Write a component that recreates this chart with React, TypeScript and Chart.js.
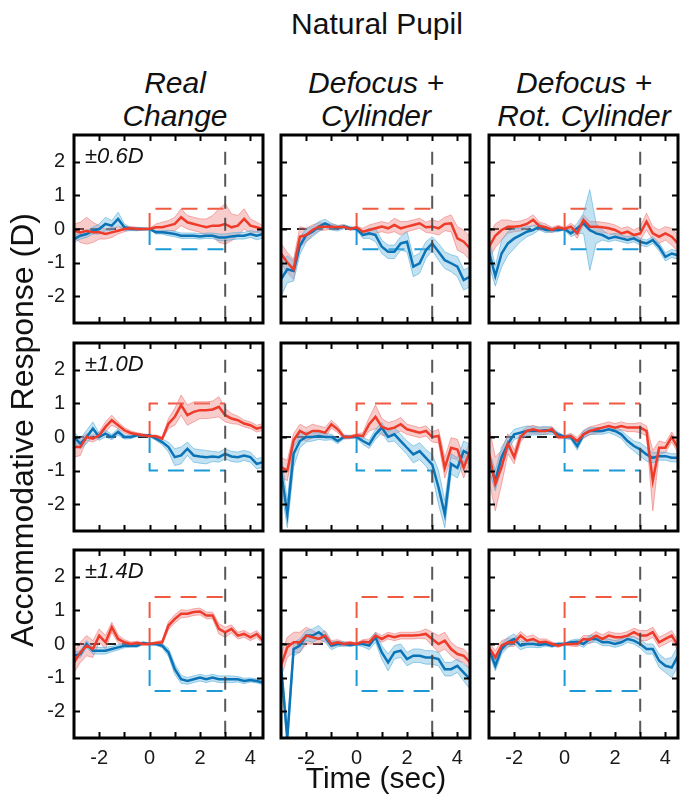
import React, { useEffect, useRef } from 'react';
import { Chart, registerables } from 'chart.js';

Chart.register(...registerables);

// ---------- data ----------
const TIME = [-3, -2.75, -2.5, -2.25, -2, -1.75, -1.5, -1.25, -1, -0.75, -0.5, -0.25, 0, 0.25, 0.5, 0.75, 1, 1.25, 1.5, 1.75, 2, 2.25, 2.5, 2.75, 3, 3.25, 3.5, 3.75, 4, 4.25, 4.5];
const X_TICKS = [-2, 0, 2, 4];
const X_MINOR_TICKS = [-2, -1, 0, 1, 2, 3, 4];
const Y_TICKS = [-2, -1, 0, 1, 2];
const AMPLITUDES = [0.6, 1.0, 1.4];
const AMPLITUDE_LABELS = ['±0.6D', '±1.0D', '±1.4D'];
const COLUMN_TITLES = [['Real', 'Change'], ['Defocus +', 'Cylinder'], ['Defocus +', 'Rot. Cylinder']];
const STIMULUS_END = 3;

// Row 1: ±0.6D
const realChange06Red = [-0.05, -0.1, -0.05, -0.1, -0.1, -0.15, -0.1, -0.05, 0, 0.02, 0, 0, 0, 0.05, 0.05, 0.1, 0.15, 0.35, 0.2, 0.15, 0.1, 0.05, 0.1, 0.1, 0.15, 0.05, 0.1, 0.3, 0.1, 0.05, 0];
const realChange06RedSd = [0.2, 0.3, 0.4, 0.3, 0.2, 0.15, 0.15, 0.1, 0.08, 0.05, 0.05, 0.03, 0.02, 0.1, 0.15, 0.15, 0.2, 0.25, 0.2, 0.2, 0.2, 0.25, 0.3, 0.5, 0.6, 0.4, 0.3, 0.3, 0.2, 0.15, 0.1];
const realChange06Blue = [-0.3, -0.2, -0.15, -0.05, 0, 0.15, 0.1, 0.3, 0.05, 0, 0, 0, 0, -0.1, -0.1, -0.12, -0.15, -0.2, -0.2, -0.2, -0.22, -0.2, -0.2, -0.25, -0.25, -0.22, -0.2, -0.2, -0.15, -0.2, -0.15];
const realChange06BlueSd = [0.1, 0.1, 0.1, 0.1, 0.15, 0.2, 0.15, 0.2, 0.1, 0.05, 0.05, 0.03, 0.02, 0.05, 0.05, 0.08, 0.08, 0.08, 0.08, 0.08, 0.08, 0.08, 0.08, 0.1, 0.1, 0.1, 0.1, 0.1, 0.1, 0.12, 0.12];

const defocusCyl06Red = [-0.73, -1.0, -1.2, -0.23, -0.18, -0.03, 0.07, 0.07, 0.07, 0.05, 0.07, 0, 0.05, -0.08, -0.03, 0.02, 0.07, 0.02, 0.12, 0.02, 0.07, 0.12, 0.17, 0.05, 0.07, 0.02, 0.15, 0.17, -0.28, -0.38, -0.58];
const defocusCyl06RedSd = [0.3, 0.3, 0.3, 0.3, 0.2, 0.15, 0.12, 0.1, 0.08, 0.06, 0.05, 0.04, 0.03, 0.1, 0.15, 0.15, 0.15, 0.15, 0.2, 0.2, 0.15, 0.15, 0.15, 0.15, 0.2, 0.2, 0.2, 0.25, 0.35, 0.35, 0.35];
const defocusCyl06Blue = [-1.5, -1.2, -1.25, -0.5, -0.18, -0.08, 0.07, 0.17, 0.07, 0.02, 0.07, 0.02, 0, -0.18, -0.13, -0.18, -0.53, -0.68, -0.68, -0.43, -0.38, -1.12, -1.02, -0.63, -0.43, -0.68, -0.93, -1.02, -1.12, -1.52, -1.42];
const defocusCyl06BlueSd = [0.5, 0.4, 0.3, 0.25, 0.2, 0.15, 0.15, 0.12, 0.1, 0.08, 0.06, 0.05, 0.03, 0.1, 0.15, 0.2, 0.2, 0.2, 0.2, 0.2, 0.3, 0.3, 0.3, 0.25, 0.2, 0.25, 0.25, 0.25, 0.3, 0.3, 0.3];

const rotCyl06Red = [-0.53, -0.2, -0.03, 0.07, 0.07, 0.09, 0.15, 0.27, 0.09, 0.05, -0.03, 0.05, 0, 0.07, -0.13, 0.27, 0.07, 0.07, 0.05, 0.02, -0.03, -0.13, -0.08, -0.18, -0.13, 0.22, -0.13, -0.23, -0.13, -0.23, -0.43];
const rotCyl06RedSd = [0.35, 0.35, 0.3, 0.2, 0.15, 0.15, 0.15, 0.15, 0.12, 0.1, 0.08, 0.06, 0.04, 0.1, 0.15, 0.15, 0.15, 0.15, 0.15, 0.15, 0.15, 0.15, 0.15, 0.15, 0.2, 0.25, 0.2, 0.2, 0.2, 0.25, 0.25];
const rotCyl06Blue = [-0.68, -1.4, -0.73, -0.43, -0.28, -0.18, -0.08, -0.03, 0.07, -0.03, -0.03, -0.03, 0, -0.13, 0.02, 0.17, -0.03, -0.13, -0.18, -0.28, -0.23, -0.28, -0.33, -0.28, -0.38, -0.43, -0.33, -0.53, -0.83, -0.73, -0.78];
const rotCyl06BlueSd = [0.4, 0.3, 0.4, 0.35, 0.3, 0.2, 0.15, 0.12, 0.1, 0.08, 0.06, 0.05, 0.03, 0.1, 0.15, 0.3, 1.2, 0.3, 0.15, 0.1, 0.1, 0.1, 0.1, 0.1, 0.1, 0.1, 0.1, 0.12, 0.12, 0.12, 0.12];

// Row 2: ±1.0D
const realChange10Red = [-0.3, -0.3, 0, -0.05, 0.05, 0.3, 0.5, 0.35, 0.2, 0.12, 0.08, 0.05, 0.03, 0.02, -0.05, 0.4, 0.6, 0.95, 0.65, 0.75, 0.8, 0.8, 0.82, 0.9, 0.65, 0.55, 0.5, 0.4, 0.35, 0.25, 0.3];
const realChange10RedSd = [0.3, 0.25, 0.1, 0.1, 0.1, 0.15, 0.15, 0.1, 0.08, 0.06, 0.05, 0.04, 0.03, 0.04, 0.05, 0.15, 0.25, 0.3, 0.3, 0.3, 0.25, 0.25, 0.25, 0.3, 0.2, 0.15, 0.12, 0.1, 0.1, 0.1, 0.1];
const realChange10Blue = [0, -0.2, 0, 0.25, 0, 0.1, 0, 0.15, 0, 0, 0.05, 0.05, 0.05, -0.05, -0.15, -0.3, -0.6, -0.55, -0.35, -0.55, -0.58, -0.6, -0.58, -0.6, -0.5, -0.58, -0.6, -0.55, -0.6, -0.8, -0.75];
const realChange10BlueSd = [0.15, 0.15, 0.2, 0.2, 0.1, 0.1, 0.08, 0.1, 0.06, 0.05, 0.04, 0.03, 0.03, 0.05, 0.08, 0.15, 0.25, 0.25, 0.2, 0.2, 0.2, 0.2, 0.15, 0.15, 0.15, 0.15, 0.15, 0.15, 0.15, 0.15, 0.15];

const defocusCyl10Red = [-0.9, -1.0, -0.1, 0.18, 0.08, 0.18, 0.18, 0.13, 0.38, 0.23, 0, 0, 0.05, 0.03, 0.38, 0.6, 0.3, 0.23, 0.28, 0.38, 0.23, 0.18, 0.13, 0.18, 0, 0.03, -0.92, -0.32, -0.37, -0.92, -0.42];
const defocusCyl10RedSd = [0.3, 0.3, 0.2, 0.2, 0.2, 0.2, 0.15, 0.15, 0.12, 0.1, 0.06, 0.05, 0.04, 0.1, 0.2, 0.35, 0.25, 0.2, 0.2, 0.2, 0.15, 0.15, 0.15, 0.15, 0.15, 0.2, 0.3, 0.3, 0.3, 0.3, 0.3];
const defocusCyl10Blue = [-1.0, -2.3, -0.5, -0.12, 0, 0, 0.03, 0, 0, -0.12, 0, 0, 0, -0.12, -0.22, 0.08, 0.28, 0, 0.08, -0.12, -0.32, -0.52, -0.42, -0.62, -0.82, -1.5, -2.3, -0.8, -0.92, -0.42, -0.52];
const defocusCyl10BlueSd = [0.5, 0.4, 0.4, 0.2, 0.15, 0.12, 0.1, 0.1, 0.08, 0.08, 0.05, 0.04, 0.03, 0.1, 0.12, 0.15, 0.15, 0.15, 0.2, 0.2, 0.2, 0.25, 0.25, 0.25, 0.3, 0.5, 0.4, 0.3, 0.3, 0.3, 0.3];

const rotCyl10Red = [-0.5, -1.4, -0.9, -0.2, -0.6, 0, 0.18, 0.23, 0.18, 0.18, 0.23, 0, 0, 0.03, -0.12, 0.08, 0.18, 0.23, 0.28, 0.33, 0.28, 0.33, 0.28, 0.28, 0.28, 0.18, -1.3, -0.32, -0.32, 0, -0.32];
const rotCyl10RedSd = [0.8, 0.8, 0.5, 0.3, 0.2, 0.15, 0.12, 0.12, 0.1, 0.1, 0.08, 0.06, 0.04, 0.08, 0.1, 0.12, 0.12, 0.12, 0.12, 0.12, 0.12, 0.12, 0.12, 0.12, 0.15, 0.15, 0.9, 0.2, 0.15, 0.15, 0.15];
const rotCyl10Blue = [-0.7, -1.3, -0.6, -0.2, 0.08, 0.13, 0.18, 0.18, 0.18, 0.2, 0.18, 0.08, 0, 0, -0.27, 0.08, 0.18, 0.18, 0.18, 0.23, 0.18, 0.08, -0.12, -0.27, -0.37, -0.52, -0.62, -0.57, -0.57, -0.62, -0.62];
const rotCyl10BlueSd = [0.3, 0.3, 0.3, 0.2, 0.15, 0.15, 0.15, 0.12, 0.12, 0.12, 0.1, 0.06, 0.04, 0.08, 0.12, 0.1, 0.1, 0.1, 0.1, 0.1, 0.12, 0.12, 0.15, 0.15, 0.2, 0.2, 0.15, 0.12, 0.12, 0.12, 0.12];

// Row 3: ±1.4D
const realChange14Red = [-0.55, -0.25, -0.05, -0.15, 0.25, 0.05, 0.5, 0.15, 0.05, 0, 0.03, 0, 0, 0.03, 0.05, 0.55, 0.75, 0.9, 0.9, 0.95, 0.97, 0.85, 0.85, 0.45, 0.35, 0.45, 0.25, 0.3, 0.2, 0.3, 0.1];
const realChange14RedSd = [0.3, 0.3, 0.3, 0.25, 0.2, 0.2, 0.15, 0.12, 0.08, 0.06, 0.05, 0.04, 0.03, 0.04, 0.06, 0.12, 0.12, 0.12, 0.1, 0.1, 0.1, 0.1, 0.1, 0.15, 0.15, 0.12, 0.1, 0.1, 0.1, 0.1, 0.1];
const realChange14Blue = [-0.35, -0.3, 0, -0.2, -0.2, -0.2, -0.15, -0.1, -0.05, -0.05, -0.05, 0.03, 0, 0, -0.05, -0.25, -0.75, -1.05, -1.1, -1.05, -1.0, -1.05, -1.0, -1.05, -1.05, -1.05, -1.05, -1.1, -1.07, -1.1, -1.15];
const realChange14BlueSd = [0.1, 0.1, 0.1, 0.1, 0.1, 0.1, 0.08, 0.08, 0.06, 0.05, 0.05, 0.04, 0.03, 0.04, 0.06, 0.12, 0.15, 0.12, 0.1, 0.1, 0.1, 0.1, 0.1, 0.1, 0.1, 0.1, 0.08, 0.08, 0.06, 0.06, 0.06];

const defocusCyl14Red = [-0.65, -0.1, 0.05, 0.05, 0.25, 0.2, 0.15, 0.25, 0, 0.05, 0, 0.03, 0, 0.07, 0.05, 0.25, 0.15, 0.25, 0.2, 0.25, 0.25, 0.25, 0.27, 0.3, 0.15, 0, 0.1, -0.15, -0.3, -0.35, -0.55];
const defocusCyl14RedSd = [0.35, 0.3, 0.3, 0.3, 0.25, 0.2, 0.15, 0.15, 0.1, 0.08, 0.06, 0.05, 0.03, 0.06, 0.1, 0.1, 0.1, 0.1, 0.1, 0.1, 0.1, 0.1, 0.1, 0.15, 0.2, 0.25, 0.25, 0.2, 0.2, 0.2, 0.2];
const defocusCyl14Blue = [-0.65, -2.8, -0.15, -0.05, 0.25, 0.25, 0.35, 0.2, -0.05, 0, 0, -0.03, 0, 0, -0.05, 0.2, -0.25, -0.55, -0.25, -0.2, -0.45, -0.35, -0.35, -0.4, -0.4, -0.45, -0.75, -0.75, -0.65, -0.85, -1.05];
const defocusCyl14BlueSd = [0.3, 0.3, 0.2, 0.2, 0.15, 0.2, 0.2, 0.15, 0.12, 0.08, 0.06, 0.05, 0.03, 0.08, 0.12, 0.15, 0.2, 0.25, 0.2, 0.2, 0.2, 0.2, 0.2, 0.2, 0.2, 0.2, 0.2, 0.2, 0.2, 0.25, 0.3];

const rotCyl14Red = [-0.1, -0.4, -0.05, 0.05, 0.05, 0.25, 0.1, 0.15, 0.05, 0.07, 0, -0.05, 0, 0, 0, 0.15, 0.13, 0.25, 0.15, 0.25, 0.2, 0.2, 0.25, 0.35, 0.25, 0.25, 0.35, 0.05, 0.15, 0.25, -0.05];
const rotCyl14RedSd = [0.15, 0.2, 0.15, 0.12, 0.12, 0.12, 0.12, 0.12, 0.1, 0.08, 0.06, 0.05, 0.03, 0.06, 0.08, 0.1, 0.12, 0.12, 0.12, 0.12, 0.12, 0.12, 0.12, 0.12, 0.15, 0.15, 0.15, 0.15, 0.15, 0.15, 0.15];
const rotCyl14Blue = [-0.15, -0.65, -0.15, 0.05, 0.15, -0.05, 0, 0, -0.03, 0, -0.05, 0, 0, 0.05, 0.07, 0, 0.15, 0.15, 0.05, 0.05, 0, 0.05, 0.15, 0.1, 0, -0.15, -0.15, -0.5, -0.65, -0.7, -0.35];
const rotCyl14BlueSd = [0.12, 0.15, 0.15, 0.15, 0.15, 0.12, 0.1, 0.1, 0.08, 0.06, 0.05, 0.04, 0.03, 0.06, 0.08, 0.1, 0.1, 0.1, 0.1, 0.1, 0.1, 0.1, 0.1, 0.1, 0.12, 0.15, 0.15, 0.2, 0.2, 0.3, 0.3];

const PANEL_DATA = [
  [
    { red: realChange06Red, redSd: realChange06RedSd, blue: realChange06Blue, blueSd: realChange06BlueSd },
    { red: defocusCyl06Red, redSd: defocusCyl06RedSd, blue: defocusCyl06Blue, blueSd: defocusCyl06BlueSd },
    { red: rotCyl06Red, redSd: rotCyl06RedSd, blue: rotCyl06Blue, blueSd: rotCyl06BlueSd },
  ],
  [
    { red: realChange10Red, redSd: realChange10RedSd, blue: realChange10Blue, blueSd: realChange10BlueSd },
    { red: defocusCyl10Red, redSd: defocusCyl10RedSd, blue: defocusCyl10Blue, blueSd: defocusCyl10BlueSd },
    { red: rotCyl10Red, redSd: rotCyl10RedSd, blue: rotCyl10Blue, blueSd: rotCyl10BlueSd },
  ],
  [
    { red: realChange14Red, redSd: realChange14RedSd, blue: realChange14Blue, blueSd: realChange14BlueSd },
    { red: defocusCyl14Red, redSd: defocusCyl14RedSd, blue: defocusCyl14Blue, blueSd: defocusCyl14BlueSd },
    { red: rotCyl14Red, redSd: rotCyl14RedSd, blue: rotCyl14Blue, blueSd: rotCyl14BlueSd },
  ],
];

// ---------- style / layout ----------
const FONT = "'Liberation Sans', Arial, Helvetica, sans-serif";
const RED = '#ee3b2a';
const BLUE = '#0b73b7';
const RED_DASH = '#f05a40';
const BLUE_DASH = '#1b9ad6';
const COL_LEFT = [74, 281, 489];
const ROW_TOP = [135, 343, 550];
const AREA_W = 189;
const AREA_H = 188;
const PAD_L = 60;
const PAD_T = 26;
const PAD_R = 10;
const PAD_B = 40;

const framePlugin = {
  id: 'frame',
  afterDatasetsDraw(chart: any, _args: any, opts: any) {
    const { ctx, chartArea: a, scales } = chart;
    const x = scales.x;
    const y = scales.y;
    ctx.save();
    ctx.strokeStyle = '#000';
    ctx.lineWidth = 2;
    ctx.beginPath();
    for (const v of X_MINOR_TICKS) {
      const px = Math.round(x.getPixelForValue(v)) + 0.5;
      ctx.moveTo(px, a.bottom);
      ctx.lineTo(px, a.bottom - 6);
      ctx.moveTo(px, a.top);
      ctx.lineTo(px, a.top + 6);
    }
    for (const v of Y_TICKS) {
      const py = Math.round(y.getPixelForValue(v)) + 0.5;
      ctx.moveTo(a.left, py);
      ctx.lineTo(a.left + 6, py);
      ctx.moveTo(a.right, py);
      ctx.lineTo(a.right - 6, py);
    }
    ctx.stroke();
    ctx.lineWidth = 3;
    ctx.strokeRect(a.left, a.top, a.right - a.left, a.bottom - a.top);
    if (opts && opts.label) {
      ctx.fillStyle = '#111';
      ctx.font = `italic 22px ${FONT}`;
      ctx.textBaseline = 'alphabetic';
      ctx.textAlign = 'left';
      ctx.fillText(opts.label, a.left + 11, a.top + 28);
    }
    ctx.restore();
  },
};

function Panel({ row, col }: { row: number; col: number }) {
  const ref = useRef<HTMLCanvasElement>(null);
  useEffect(() => {
    const d = PANEL_DATA[row][col];
    const amp = AMPLITUDES[row];
    const pts = (ys: number[]) => TIME.map((t, i) => ({ x: t, y: ys[i] }));
    const plus = (m: number[], s: number[]) => m.map((v, i) => v + s[i]);
    const minus = (m: number[], s: number[]) => m.map((v, i) => v - s[i]);
    const tickFont = { family: FONT, size: 20 };
    const chart = new Chart(ref.current as HTMLCanvasElement, {
      type: 'line',
      data: {
        datasets: [
          { data: [{ x: -3, y: 0 }, { x: 0, y: 0 }], borderColor: '#222', borderWidth: 2, borderDash: [10, 6], order: 20 },
          { data: [{ x: 0, y: 0 }, { x: 0, y: amp }, { x: STIMULUS_END, y: amp }], borderColor: RED_DASH, borderWidth: 2, borderDash: [16, 10], order: 19 },
          { data: [{ x: 0, y: 0 }, { x: 0, y: -amp }, { x: STIMULUS_END, y: -amp }], borderColor: BLUE_DASH, borderWidth: 2, borderDash: [16, 10], order: 19 },
          { data: pts(plus(d.red, d.redSd)), borderColor: 'rgba(236,110,110,0.55)', borderWidth: 1, fill: false, order: 16 },
          { data: pts(minus(d.red, d.redSd)), borderColor: 'rgba(236,110,110,0.55)', borderWidth: 1, fill: '-1', backgroundColor: 'rgba(240,120,120,0.38)', order: 15 },
          { data: pts(plus(d.blue, d.blueSd)), borderColor: 'rgba(70,165,215,0.55)', borderWidth: 1, fill: false, order: 14 },
          { data: pts(minus(d.blue, d.blueSd)), borderColor: 'rgba(70,165,215,0.55)', borderWidth: 1, fill: '-1', backgroundColor: 'rgba(110,185,225,0.42)', order: 13 },
          { data: pts(d.blue), borderColor: BLUE, borderWidth: 2.5, fill: false, order: 5 },
          { data: pts(d.red), borderColor: RED, borderWidth: 2.5, fill: false, order: 4 },
          { data: [{ x: STIMULUS_END, y: 2.3 }, { x: STIMULUS_END, y: -2.8 }], borderColor: 'rgba(70,70,70,0.9)', borderWidth: 2, borderDash: [13, 9], order: 1 },
        ] as any,
      },
      options: {
        animation: false,
        responsive: false,
        devicePixelRatio: 1,
        events: [],
        layout: { autoPadding: false, padding: { left: 0, top: PAD_T, right: PAD_R, bottom: 0 } },
        elements: { point: { radius: 0 }, line: { tension: 0 } },
        plugins: {
          legend: { display: false },
          tooltip: { enabled: false },
          frame: { label: col === 0 ? AMPLITUDE_LABELS[row] : '' },
        } as any,
        scales: {
          x: {
            type: 'linear',
            min: -3,
            max: 4.5,
            grid: { display: false, drawTicks: false },
            border: { display: false },
            ticks: { display: row === 2, font: tickFont, color: '#1a1a1a', padding: 8, maxRotation: 0, callback: (v: any) => String(v) },
            afterBuildTicks: (s: any) => { s.ticks = X_TICKS.map((v) => ({ value: v })); },
            afterFit: (s: any) => { s.height = PAD_B; },
          },
          y: {
            type: 'linear',
            min: -2.8,
            max: 2.8,
            grid: { display: false, drawTicks: false },
            border: { display: false },
            ticks: { display: col === 0, font: tickFont, color: '#1a1a1a', padding: 9, callback: (v: any) => String(v) },
            afterBuildTicks: (s: any) => { s.ticks = Y_TICKS.map((v) => ({ value: v })); },
            afterFit: (s: any) => { s.width = PAD_L; },
          },
        } as any,
      },
      plugins: [framePlugin as any],
    });
    return () => chart.destroy();
  }, [row, col]);
  return (
    <canvas
      ref={ref}
      width={AREA_W + PAD_L + PAD_R}
      height={AREA_H + PAD_T + PAD_B}
      style={{ position: 'absolute', left: COL_LEFT[col] - PAD_L, top: ROW_TOP[row] - PAD_T }}
    />
  );
}

export default function App() {
  const headStyle: React.CSSProperties = {
    position: 'absolute',
    fontFamily: FONT,
    fontSize: 30,
    lineHeight: '33px',
    color: '#111',
    textAlign: 'center',
    whiteSpace: 'nowrap',
    width: 300,
  };
  const colCenters = [175, 376, 584];
  return (
    <div style={{ position: 'absolute', left: 0, top: 0, width: 683, height: 797, background: '#fff', overflow: 'hidden' }}>
      <div style={{ ...headStyle, left: 377 - 150, top: 7 }}>Natural Pupil</div>
      {COLUMN_TITLES.map((lines, c) => (
        <div key={c} style={{ ...headStyle, left: colCenters[c] - 150, top: 66, fontStyle: 'italic' }}>
          {lines[0]}
          <br />
          {lines[1]}
        </div>
      ))}
      {[0, 1, 2].map((r) => [0, 1, 2].map((c) => <Panel key={`${r}-${c}`} row={r} col={c} />))}
      <div style={{ ...headStyle, left: 376 - 150, top: 761 }}>Time (sec)</div>
      <div
        style={{
          ...headStyle,
          fontSize: 32,
          lineHeight: '36px',
          width: 600,
          left: 22 - 300,
          top: 430 - 18,
          transform: 'rotate(-90deg)',
          transformOrigin: '50% 50%',
        }}
      >
        Accommodative Response (D)
      </div>
    </div>
  );
}
